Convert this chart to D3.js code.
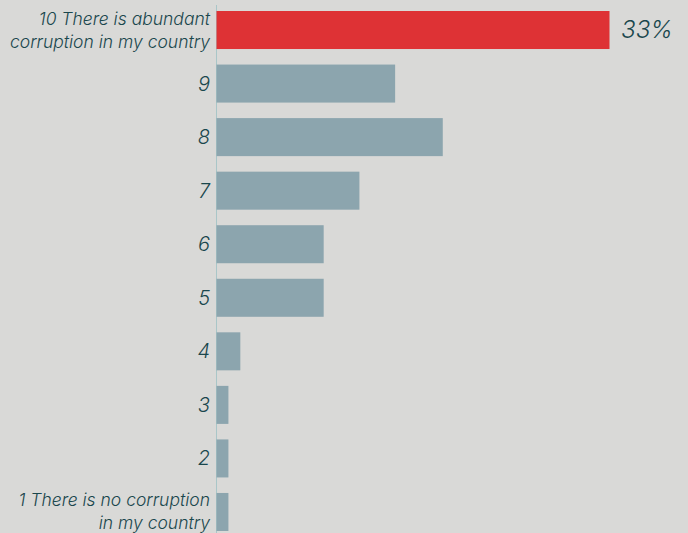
<!DOCTYPE html>
<html>
<head>
<meta charset="utf-8">
<script src="https://cdn.jsdelivr.net/npm/d3@7"></script>
<style>
  html, body { margin: 0; padding: 0; background: #d9d9d7; }
  text { font-family: Inter, "Noto Sans", sans-serif; font-style: italic; font-weight: 300; }
</style>
</head>
<body>
<script>
// data
var categories = ["10", "9", "8", "7", "6", "5", "4", "3", "2", "1"];
var labels = [
  ["10 There is abundant", "corruption in my country"],
  ["9"], ["8"], ["7"], ["6"], ["5"], ["4"], ["3"], ["2"],
  ["1 There is no corruption", "in my country"]
];
var values = [33, 15, 19, 12, 9, 9, 2, 1, 1, 1];

var width = 688, height = 533;
var svg = d3.select("body").append("svg").attr("width", width).attr("height", height);

var x = d3.scaleLinear().domain([0, 33]).range([216, 609]);
var y = d3.scaleBand().domain(categories).range([11, 531]).paddingInner(0.29).paddingOuter(0);

// axis line
svg.append("line")
  .attr("x1", 216.5).attr("x2", 216.5)
  .attr("y1", 5).attr("y2", height)
  .attr("stroke", "#a9c6c8").attr("stroke-width", 1);

svg.selectAll("rect.bar")
  .data(values)
  .enter().append("rect")
  .attr("class", "bar")
  .attr("x", x(0) + 0.5)
  .attr("y", (d, i) => y(categories[i]))
  .attr("width", d => x(d) - x(0))
  .attr("height", y.bandwidth())
  .attr("fill", (d, i) => i == 0 ? "#de3235" : "#8ca5ae");

// category labels
var lab = svg.selectAll("text.lab")
  .data(labels)
  .enter().append("text")
  .attr("class", "lab")
  .attr("text-anchor", "end")
  .attr("fill", "#1a474d")
  .attr("font-size", d => d.length > 1 ? 17.5 : 20);

lab.each(function(d, i) {
  var cy = y(categories[i]) + y.bandwidth() / 2;
  var t = d3.select(this);
  var n = d.length;
  d.forEach(function(line, j) {
    t.append("tspan")
      .attr("x", 210)
      .attr("y", cy + (j - (n - 1) / 2) * 23 + (n > 1 ? 6 : 7))
      .text(line);
  });
});

// value label for top bar
svg.append("text")
  .attr("x", x(values[0]) + 12)
  .attr("y", y(categories[0]) + y.bandwidth() / 2 + 8)
  .attr("fill", "#1a474d")
  .attr("font-size", 24)
  .text(values[0] + "%");
</script>
</body>
</html>
